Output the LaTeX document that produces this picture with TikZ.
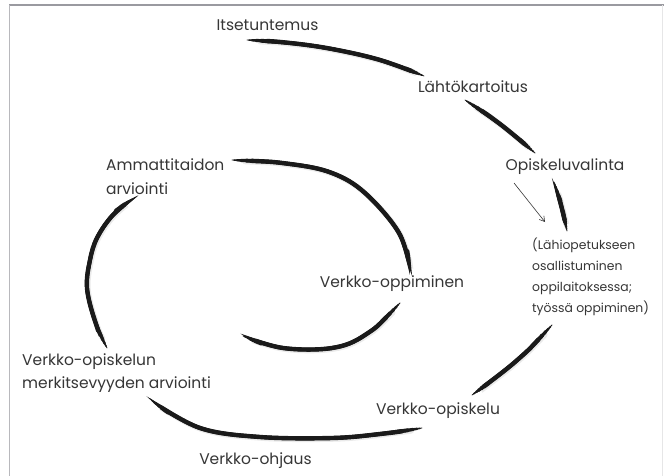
\documentclass[tikz,border=0pt]{standalone}
\usepackage{fontspec}
\setmainfont{Poppins}
\usetikzlibrary{arrows.meta}
\definecolor{ink}{HTML}{1A1A1A}
\definecolor{txt}{HTML}{363636}
\definecolor{frame}{HTML}{9A9AA0}
\newcommand\brush[1]{%
  \draw[ink!30, line width=5.5pt, line cap=round, opacity=0.3, shorten <=12pt, shorten >=12pt, transform canvas={shift={(1pt,-1pt)}}] #1;
  \draw[ink, line width=0.8pt, line cap=round] #1;
  \draw[ink, line width=1.6pt, line cap=round, shorten <=2pt, shorten >=2pt] #1;
  \draw[ink, line width=2.4pt, line cap=round, shorten <=5pt, shorten >=5pt] #1;
  \draw[ink, line width=3.2pt, line cap=round, shorten <=9pt, shorten >=9pt] #1;
  \draw[ink, line width=3.9pt, line cap=round, shorten <=14pt, shorten >=14pt] #1;
  \draw[ink, line width=4.4pt, line cap=round, shorten <=20pt, shorten >=20pt] #1;
}
\begin{document}
\begin{tikzpicture}[x=1pt,y=-1pt,
  lbl/.style={text=txt, font=\fontsize{15.5}{17}\selectfont, inner sep=0pt},
  small/.style={text=txt, font=\fontsize{12.4}{21}\selectfont, inner sep=0pt, align=left},
  twoline/.style={text=txt, font=\fontsize{15.5}{23.5}\selectfont, inner sep=0pt, align=left}]
\useasboundingbox (0,0) rectangle (664,476);
\fill[white] (0,0) rectangle (664,476);
% frame
\draw[frame, line width=1.2pt] (9,5) -- (664,5);
\draw[frame!70, line width=1pt] (9,5) -- (9,476);
\draw[frame!25, line width=0.8pt] (662,5) -- (662,476);
% labels
\node[lbl] (its) at (267.5,25) {Itsetuntemus};
\node[lbl] (lah) at (473,87) {Lähtökartoitus};
\node[lbl] (opv) at (565,167) {Opiskeluvalinta};
\node[small, anchor=west] (lahi) at (532,277) {(Lähiopetukseen\\osallistuminen\\oppilaitoksessa;\\työssä oppiminen)};
\node[twoline, anchor=west] (amm) at (106,176.5) {Ammattitaidon\\arviointi};
\node[lbl] (vop) at (392,284) {Verkko-oppiminen};
\node[twoline, anchor=west] (vmer) at (22,373) {Verkko-opiskelun\\merkitsevyyden arviointi};
\node[lbl] (vos) at (438,411) {Verkko-opiskelu};
\node[lbl] (voh) at (255.5,461) {Verkko-ohjaus};
% arrow
\coordinate (arrS) at (514,183);
\coordinate (arrE) at (545,222);
\draw[txt, line width=0.6pt, -{Straight Barb[length=5pt,width=6pt]}] (arrS) -- (arrE);
% spiral strokes
\brush{plot[smooth, tension=0.6] coordinates {(247,40) (290,43) (332,49) (380,60) (424,76)}}
\brush{plot[smooth, tension=0.6] coordinates {(465,100) (500,124) (535,153)}}
\brush{plot[smooth, tension=0.6] coordinates {(554,182) (561,205) (567,231)}}
\brush{plot[smooth, tension=0.6] coordinates {(552,325) (515,362) (472,395)}}
\brush{plot[smooth, tension=0.6] coordinates {(422,428) (380,434) (332,438) (260,437) (200,428) (152,401)}}
\brush{plot[smooth, tension=0.6] coordinates {(107,348) (95,321) (87,288) (90,260) (97,238) (112,216) (132,199)}}
\brush{plot[smooth, tension=0.6] coordinates {(232,160) (290,164) (332,173) (365,193) (399,233) (410,271)}}
\brush{plot[smooth, tension=0.6] coordinates {(400,303) (365,335) (332,348) (283,348) (243,336)}}
\end{tikzpicture}
\end{document}
